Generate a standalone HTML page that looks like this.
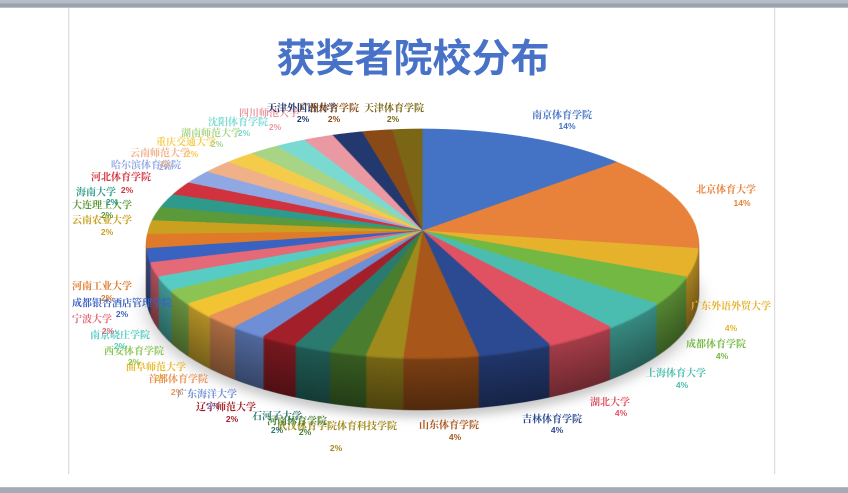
<!DOCTYPE html>
<html>
<head>
<meta charset="utf-8">
<style>
html,body{margin:0;padding:0;background:#fff;}
body{width:848px;height:493px;overflow:hidden;position:relative;}
.bar-top{position:absolute;left:0;top:0;width:848px;height:8px;background:linear-gradient(#b9bfc8 0,#b4bac4 3px,#9aa2ae 4px,#9aa2ae 7px,#d9dde2 8px);}
.bar-bot{position:absolute;left:0;top:487px;width:848px;height:6px;background:linear-gradient(#c9ccd2 0,#a6abb3 1px,#a6abb3 6px);}
.vline{position:absolute;top:8px;height:466px;width:1px;background:#dcdcdc;box-shadow:1px 0 1px rgba(0,0,0,0.05);}
.pie{position:absolute;left:0;top:0;width:848px;height:493px;}
.d{position:absolute;left:147.5px;top:-44.5px;width:549px;height:549px;border-radius:50%;
transform:translateY(var(--y)) perspective(2294px) rotateX(65.7deg);
filter:brightness(var(--b));
background:conic-gradient(
#4472C4 0 49.41deg,
#E8813A 0 98.82deg,
#E6B22C 0 112.94deg,
#74B844 0 127.06deg,
#4BBDB0 0 141.18deg,
#E05262 0 155.29deg,
#2C4A92 0 169.41deg,
#A9561A 0 183.53deg,
#A08A1C 0 190.59deg,
#4A7E2E 0 197.65deg,
#2A7A70 0 204.71deg,
#A3202A 0 211.76deg,
#6E8ED6 0 218.82deg,
#E8935A 0 225.88deg,
#F2C434 0 232.94deg,
#8CC454 0 240deg,
#56CCC4 0 247.06deg,
#E46A78 0 254.12deg,
#3A62C0 0 261.18deg,
#E07A28 0 268.24deg,
#C9A020 0 275.29deg,
#5A9A3A 0 282.35deg,
#2E9A8C 0 289.41deg,
#D0323E 0 296.47deg,
#8FA8E4 0 303.53deg,
#F0B088 0 310.59deg,
#F5CC4A 0 317.65deg,
#A8D486 0 324.71deg,
#7ADAD2 0 331.76deg,
#EA98A2 0 338.82deg,
#22386E 0 345.88deg,
#8A4A18 0 352.94deg,
#7A6614 0 360deg);}
.shadow{position:absolute;left:147.5px;top:-44.5px;width:549px;height:549px;border-radius:50%;
background:rgba(0,0,0,0.22);filter:blur(9px);
transform:translateY(60px) perspective(2294px) rotateX(65.7deg);}
svg{position:absolute;left:0;top:0;}
.n{font-family:"Liberation Serif","Noto Serif CJK SC",serif;font-size:10px;font-weight:bold;text-anchor:middle;}
.p{font-family:"Liberation Sans","Noto Sans CJK SC",sans-serif;font-size:8.5px;font-weight:bold;text-anchor:middle;}
.title{font-family:"Liberation Sans","Noto Sans CJK SC",sans-serif;font-size:39px;font-weight:bold;fill:#4872C8;text-anchor:middle;}
</style>
</head>
<body>
<div class="bar-top"></div>
<div class="vline" style="left:68px"></div>
<div class="vline" style="left:774px"></div>

<div class="pie">
<div class="shadow"></div>
<div class="d" style="--y:53px;--b:.48"></div>
<div class="d" style="--y:52px;--b:.485"></div>
<div class="d" style="--y:51px;--b:.49"></div>
<div class="d" style="--y:50px;--b:.494"></div>
<div class="d" style="--y:49px;--b:.499"></div>
<div class="d" style="--y:48px;--b:.504"></div>
<div class="d" style="--y:47px;--b:.509"></div>
<div class="d" style="--y:46px;--b:.514"></div>
<div class="d" style="--y:45px;--b:.518"></div>
<div class="d" style="--y:44px;--b:.523"></div>
<div class="d" style="--y:43px;--b:.528"></div>
<div class="d" style="--y:42px;--b:.533"></div>
<div class="d" style="--y:41px;--b:.538"></div>
<div class="d" style="--y:40px;--b:.542"></div>
<div class="d" style="--y:39px;--b:.547"></div>
<div class="d" style="--y:38px;--b:.552"></div>
<div class="d" style="--y:37px;--b:.557"></div>
<div class="d" style="--y:36px;--b:.562"></div>
<div class="d" style="--y:35px;--b:.566"></div>
<div class="d" style="--y:34px;--b:.571"></div>
<div class="d" style="--y:33px;--b:.576"></div>
<div class="d" style="--y:32px;--b:.581"></div>
<div class="d" style="--y:31px;--b:.586"></div>
<div class="d" style="--y:30px;--b:.590"></div>
<div class="d" style="--y:29px;--b:.595"></div>
<div class="d" style="--y:28px;--b:.600"></div>
<div class="d" style="--y:27px;--b:.605"></div>
<div class="d" style="--y:26px;--b:.610"></div>
<div class="d" style="--y:25px;--b:.614"></div>
<div class="d" style="--y:24px;--b:.619"></div>
<div class="d" style="--y:23px;--b:.624"></div>
<div class="d" style="--y:22px;--b:.629"></div>
<div class="d" style="--y:21px;--b:.634"></div>
<div class="d" style="--y:20px;--b:.638"></div>
<div class="d" style="--y:19px;--b:.643"></div>
<div class="d" style="--y:18px;--b:.648"></div>
<div class="d" style="--y:17px;--b:.653"></div>
<div class="d" style="--y:16px;--b:.658"></div>
<div class="d" style="--y:15px;--b:.662"></div>
<div class="d" style="--y:14px;--b:.667"></div>
<div class="d" style="--y:13px;--b:.672"></div>
<div class="d" style="--y:12px;--b:.677"></div>
<div class="d" style="--y:11px;--b:.682"></div>
<div class="d" style="--y:10px;--b:.686"></div>
<div class="d" style="--y:9px;--b:.691"></div>
<div class="d" style="--y:8px;--b:.696"></div>
<div class="d" style="--y:7px;--b:.701"></div>
<div class="d" style="--y:6px;--b:.706"></div>
<div class="d" style="--y:5px;--b:.710"></div>
<div class="d" style="--y:4px;--b:.715"></div>
<div class="d" style="--y:3px;--b:.72"></div>
<div class="d" style="--y:2px;--b:.88"></div>
<div class="d" style="--y:1px;--b:.95"></div>
<div class="d" style="--y:0px;--b:1"></div>
</div>

<svg width="848" height="493" viewBox="0 0 848 493">
<text class="title" x="413" y="72">获奖者院校分布</text>

<g>
<text class="n" x="562" y="118.5" fill="#4472C4">南京体育学院</text><text class="p" x="567" y="129" fill="#4472C4">14%</text>
<text class="n" x="726" y="193" fill="#E8813A">北京体育大学</text><text class="p" x="742" y="206" fill="#E8813A">14%</text>
<text class="n" x="731" y="309.5" fill="#E6B22C">广东外语外贸大学</text><text class="p" x="731" y="331" fill="#E6B22C">4%</text>
<text class="n" x="716" y="347.5" fill="#74B844">成都体育学院</text><text class="p" x="722" y="359" fill="#74B844">4%</text>
<text class="n" x="676" y="376.5" fill="#4BBDB0">上海体育大学</text><text class="p" x="682" y="388" fill="#4BBDB0">4%</text>
<text class="n" x="610" y="405.5" fill="#E05262">湖北大学</text><text class="p" x="621" y="416" fill="#E05262">4%</text>
<text class="n" x="552" y="422.5" fill="#2C4A92">吉林体育学院</text><text class="p" x="557" y="433" fill="#2C4A92">4%</text>
<text class="n" x="449" y="428.5" fill="#A9561A">山东体育学院</text><text class="p" x="455" y="440" fill="#A9561A">4%</text>
<text class="n" x="337" y="429.5" fill="#A08A1C">武汉体育学院体育科技学院</text><text class="p" x="336" y="451" fill="#A08A1C">2%</text>
<text class="n" x="297" y="424.5" fill="#4A7E2E">河南体育学院</text><text class="p" x="305" y="435" fill="#4A7E2E">2%</text>
<text class="n" x="277" y="419.5" fill="#2A7A70">石河子大学</text><text class="p" x="277" y="433" fill="#2A7A70">2%</text>
<text class="n" x="207" y="397.5" fill="#6E8ED6">广东海洋大学</text><text class="p" x="213" y="409" fill="#6E8ED6">2%</text>
<text class="n" x="226" y="410.5" fill="#A3202A">辽宁师范大学</text><text class="p" x="232" y="422" fill="#A3202A">2%</text>
<text class="n" x="156" y="370.5" fill="#E8BA30">曲阜师范大学</text><text class="p" x="161" y="381" fill="#E8BA30">2%</text>
<text class="n" x="178" y="382.5" fill="#E8935A">首都体育学院</text><text class="p" x="177" y="395" fill="#E8935A">2%</text>
<text class="n" x="134" y="354.5" fill="#8CC454">西安体育学院</text><text class="p" x="134" y="365" fill="#8CC454">2%</text>
<text class="n" x="120" y="338.5" fill="#56CCC4">南京晓庄学院</text><text class="p" x="120" y="349" fill="#56CCC4">2%</text>
<text class="n" x="92" y="322.5" fill="#E46A78">宁波大学</text><text class="p" x="108" y="334" fill="#E46A78">2%</text>
<text class="n" x="122" y="306.5" fill="#3A62C0">成都银杏酒店管理学院</text><text class="p" x="122" y="317" fill="#3A62C0">2%</text>
<text class="n" x="102" y="289.5" fill="#E07A28">河南工业大学</text><text class="p" x="107" y="301" fill="#E07A28">2%</text>
<text class="n" x="102" y="223.5" fill="#C9A020">云南农业大学</text><text class="p" x="107" y="235" fill="#C9A020">2%</text>
<text class="n" x="102" y="208.5" fill="#5A9A3A">大连理工大学</text><text class="p" x="107" y="218" fill="#5A9A3A">2%</text>
<text class="n" x="96" y="195.5" fill="#2E9A8C">海南大学</text><text class="p" x="112" y="205" fill="#2E9A8C">2%</text>
<text class="n" x="146" y="168.5" fill="#8FA8E4">哈尔滨体育学院</text><text class="p" x="165" y="170" fill="#8FA8E4">2%</text>
<text class="n" x="121" y="180.5" fill="#D0323E">河北体育学院</text><text class="p" x="127" y="193" fill="#D0323E">2%</text>
<text class="n" x="160" y="156.5" fill="#F0B088">云南师范大学</text><text class="p" x="166" y="167" fill="#F0B088">2%</text>
<text class="n" x="186" y="145.5" fill="#F5CC4A">重庆交通大学</text><text class="p" x="192" y="157" fill="#F5CC4A">2%</text>
<text class="n" x="211" y="136.5" fill="#A8D486">湖南师范大学</text><text class="p" x="217" y="147" fill="#A8D486">2%</text>
<text class="n" x="238" y="125.5" fill="#7ADAD2">沈阳体育学院</text><text class="p" x="244" y="136" fill="#7ADAD2">2%</text>
<text class="n" x="269" y="116.5" fill="#EA98A2">四川师范大学</text><text class="p" x="275" y="130" fill="#EA98A2">2%</text>
<text class="n" x="302" y="111.5" fill="#22386E">天津外国语大学</text><text class="p" x="303" y="122" fill="#22386E">2%</text>
<text class="n" x="329" y="111.5" fill="#8A4A18">广州体育学院</text><text class="p" x="334" y="122" fill="#8A4A18">2%</text>
<text class="n" x="394" y="111.5" fill="#7A6614">天津体育学院</text><text class="p" x="393" y="122" fill="#7A6614">2%</text>
</g>
</svg>

<div class="bar-bot"></div>
</body>
</html>
